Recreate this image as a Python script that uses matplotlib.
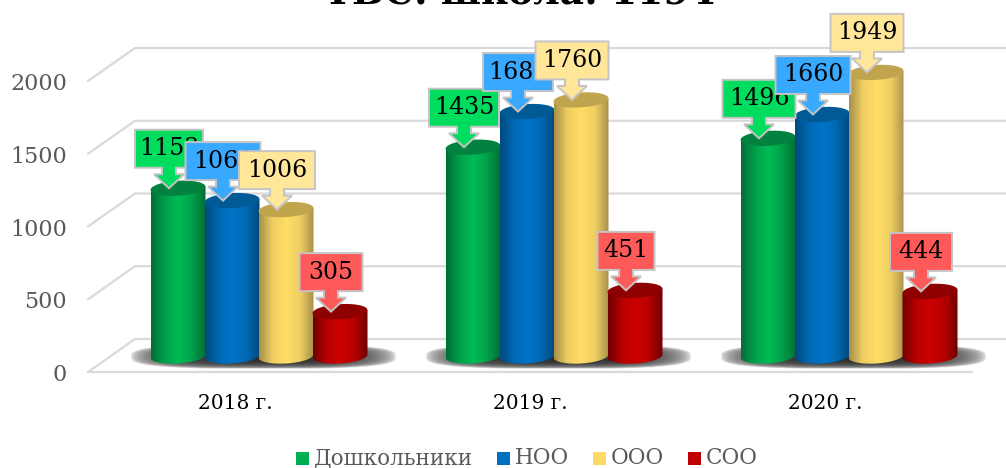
import matplotlib
matplotlib.use("Agg")
import matplotlib.pyplot as plt
import numpy as np
from matplotlib.colors import LinearSegmentedColormap
from matplotlib.patches import PathPatch, Polygon, Rectangle
from matplotlib.path import Path

years = ["2018 г.", "2019 г.", "2020 г."]
series_names = ["Дошкольники", "НОО", "ООО", "СОО"]
preschool = [1153, 1435, 1496]
noo = [1068, 1680, 1660]
ooo = [1006, 1760, 1949]
soo = [305, 451, 444]
y_ticks = [0, 500, 1000, 1500, 2000]

body_colors = [
    ("#016f36", "#00a04a", "#00bb55", "#00a04a", "#016f36"),
    ("#004a7d", "#0068b4", "#0074c8", "#0068b4", "#004a7d"),
    ("#a8914a", "#f0cf62", "#ffdd66", "#f0cf62", "#a8914a"),
    ("#700000", "#b80000", "#cc0000", "#b80000", "#700000"),
]
top_colors = ["#03823f", "#005a96", "#c0a54e", "#8f0000"]
label_colors = ["#00dd5e", "#39a9ff", "#ffe699", "#ff5a5a"]
legend_colors = ["#00ad50", "#0070c0", "#ffd966", "#c00000"]
box_widths = [[68, 70, 73], [75, 70, 75], [76, 73, 73], [63, 57, 62]]

PX_X = 295.0     # pixels per category
PX_Y = 0.1455    # pixels per value unit
BASE_PX = 356.0
CENTER_PX = 259.0

fig = plt.figure(figsize=(10.06, 4.68), dpi=100)
ax = fig.add_axes([0, 0, 1, 1])
ax.set_xlim(-CENTER_PX / PX_X, (1006 - CENTER_PX) / PX_X)
ax.set_ylim((BASE_PX - 468) / PX_Y, BASE_PX / PX_Y)
ax.axis("off")

serif = ["DejaVu Serif"]
dx = 1 / PX_X   # one pixel in data units
dy = 1 / PX_Y

# gridlines of the floor and back wall
front_off, back_off = -16 * dy, 17 * dy
x_front, x_back, x_end = -171 * dx, -124 * dx, 747 * dx
for v in y_ticks:
    ax.plot([x_front, x_back, x_end], [v + front_off, v + back_off, v + back_off],
            color="#d9d9d9", lw=1.6, zorder=1, solid_capstyle="round")
    ax.text(-192 * dx, v + front_off - 3 * dy, str(v), ha="right", va="center",
            fontsize=16, color="#595959", family=serif)
ax.plot([x_front, 713 * dx], [front_off, front_off], color="#d9d9d9", lw=1.6, zorder=1)

# floor shadows
sx, sy = np.meshgrid(np.linspace(-1, 1, 200), np.linspace(-1, 1, 40))
shadow = np.zeros((40, 200, 4))
shadow[..., 3] = np.clip(1.0 - (np.abs(sx) ** 3 + np.abs(sy) ** 3), 0, 1) ** 0.5
shadow[..., :3] = 0.18
for i in range(len(years)):
    ax.imshow(shadow, extent=[i - 129 * dx, i + 138 * dx, -13 * dy, 12 * dy],
              aspect="auto", zorder=2, interpolation="bilinear")


def cylinder(xc, height, n, z):
    w = 27.5 * dx
    h = 7.5 * dy
    tilt = 1.6 * dy
    t = np.linspace(0, np.pi, 40)
    lower = np.column_stack([xc - np.cos(t) * w, -np.sin(t) * h - np.cos(t) * tilt])
    upper = np.column_stack([xc + np.cos(t) * w, height + np.cos(t) * tilt])
    body = Path(np.vstack([lower, upper, lower[:1]]))
    cmap = LinearSegmentedColormap.from_list("c", body_colors[n])
    grad = np.linspace(0, 1, 80).reshape(1, -1)
    im = ax.imshow(grad, extent=[xc - w, xc + w, -h - 2 * dy, height + h], aspect="auto",
                   cmap=cmap, zorder=z, interpolation="bilinear")
    im.set_clip_path(PathPatch(body, transform=ax.transData))
    top = np.column_stack([xc + np.cos(2 * t) * w,
                           height + np.sin(2 * t) * h + np.cos(2 * t) * tilt])
    ax.add_patch(Polygon(top, closed=True, fc=top_colors[n], ec="none", zorder=z + 0.1))


def callout(tip_x, value, width, color, z):
    w = width / 2 * dx
    bottom = value + 20.5 * dy
    top_y = bottom + 38 * dy
    stem = 7 * dx
    head = 15 * dx
    neck = value + 14 * dy
    pts = [(tip_x - w, top_y), (tip_x + w, top_y), (tip_x + w, bottom), (tip_x + stem, bottom),
           (tip_x + stem, neck), (tip_x + head, neck), (tip_x, value), (tip_x - head, neck),
           (tip_x - stem, neck), (tip_x - stem, bottom), (tip_x - w, bottom)]
    ax.add_patch(Polygon(pts, closed=True, fc=color, ec="#c4c4c4", lw=1.4, zorder=z, joinstyle="miter"))
    ax.text(tip_x, (bottom + top_y) / 2, str(value), ha="center", va="center", fontsize=17,
            color="black", family=serif, zorder=z + 0.1)


all_values = [preschool, noo, ooo, soo]
bar_step = 54 * dx
for i in range(len(years)):
    for n, vals in enumerate(all_values):
        cylinder(i + (n - 1.5) * bar_step, vals[i], n, 10 + n)
for n, vals in enumerate(all_values):
    for i in range(len(years)):
        xc = i + (n - 1.5) * bar_step
        callout(xc - 9 * dx, vals[i], box_widths[n][i], label_colors[n], 20 + n)

for i, year in enumerate(years):
    ax.text(i - 23.5 * dx, -47.5 * dy, year, ha="center", va="center",
            fontsize=14.5, color="black", family=serif)

# legend, placed by hand along the bottom
legend_x = [296, 497, 593, 688]
for n, name in enumerate(series_names):
    ax.add_patch(Rectangle(((legend_x[n] - CENTER_PX) * dx, (BASE_PX - 465) * dy), 13 * dx, 13 * dy,
                           fc=legend_colors[n], ec="none", zorder=5))
    ax.text((legend_x[n] + 18 - CENTER_PX) * dx, (BASE_PX - 458) * dy, name, ha="left", va="center",
            fontsize=15.5, color="#595959", family=serif)

# title is cut by the top edge in the original too
ax.text((520 - CENTER_PX) * dx, (BASE_PX - 4) * dy, "ТБС: школа: 1194", ha="center", va="baseline",
        fontsize=27, fontweight="bold", color="black", family=serif)

fig.savefig("out.png", dpi=100)
